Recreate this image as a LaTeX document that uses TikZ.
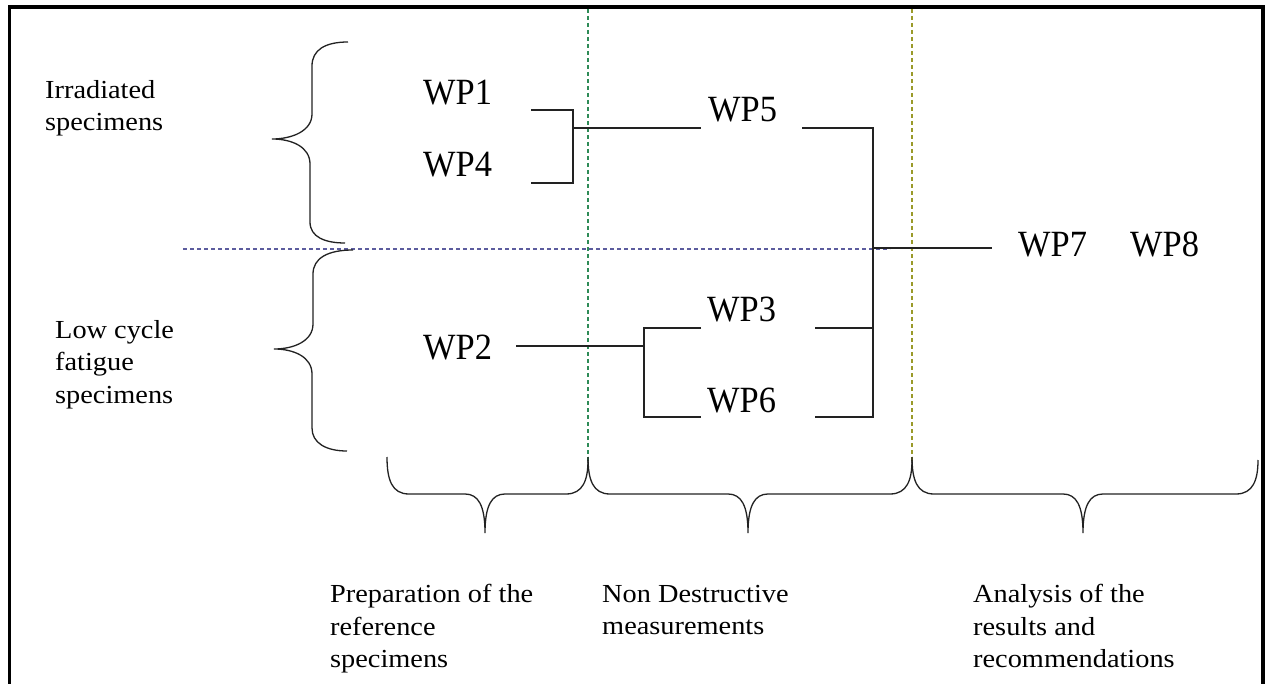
\documentclass[tikz,border=0pt]{standalone}
\usepackage{fontspec}
\setmainfont{Liberation Serif}
\newfontfamily\lblfont[FakeStretch=1.09]{Liberation Serif}
\newfontfamily\wpfont[FakeStretch=0.93]{Liberation Serif}
\definecolor{conncol}{HTML}{222222}
\definecolor{bluedash}{HTML}{5C5C9E}
\definecolor{greendash}{HTML}{2E8B57}
\definecolor{olivedash}{HTML}{9A9A2A}
\tikzset{
  conn/.style={draw=conncol, line width=1.3pt},
  frameline/.style={draw=black, line width=3.5pt},
  sepline/.style={line width=1.1pt, dash pattern=on 4pt off 3pt},
  lbl/.style={inner sep=0pt, anchor=north west, align=left, font=\lblfont\fontsize{26}{32.5}\selectfont},
  wp/.style={inner sep=0pt, anchor=base west, font=\wpfont\fontsize{37}{40}\selectfont},
}
\newcommand\downbrace[3]{%
  \draw[conn] (#1,457) .. controls (#1,480) and (#1+5,494) .. (#1+22,494)
    -- (#2-20,494) .. controls (#2-7,494) and (#2,505) .. (#2,533)
    .. controls (#2,505) and (#2+7,494) .. (#2+20,494)
    -- (#3-22,494) .. controls (#3-5,494) and (#3,480) .. (#3,460);}
\begin{document}
\begin{tikzpicture}[x=1pt,y=-1pt]
\useasboundingbox (0,0) rectangle (1268,684);
\fill[white] (0,0) rectangle (1268,684);
% frame
\draw[frameline] (9.5,690) -- (9.5,7) -- (1263,7) -- (1263,690);
% separators
\draw[sepline, draw=bluedash] (183,249) -- (890,249);
\draw[sepline, draw=greendash] (588,9) -- (588,463);
\draw[sepline, draw=olivedash] (912,9) -- (912,463);
% left braces
\draw[conn] (348,42) .. controls (325,42) and (312,50) .. (312,66) -- (312,114)
  .. controls (312,131) and (292,139) .. (272,139)
  .. controls (292,139) and (310,147) .. (310,164) -- (310,222)
  .. controls (310,237) and (325,243) .. (345,243);
\draw[conn] (353,250) .. controls (328,250) and (313,258) .. (313,274) -- (313,324)
  .. controls (313,341) and (294,349) .. (274,349)
  .. controls (294,349) and (312,357) .. (312,374) -- (312,428)
  .. controls (312,443) and (326,451) .. (347,451);
% bottom braces
\downbrace{387}{485}{588}
\downbrace{588}{748}{912}
\downbrace{912}{1083}{1258}
% side and bottom labels
\node[lbl] (irr) at (45,80.2) {Irradiated\\specimens};
\node[lbl] (lcf) at (55,320.2) {Low cycle\\fatigue\\specimens};
\node[lbl] (prep) at (330,584.2) {Preparation of the\\reference\\specimens};
\node[lbl] (ndm) at (602,584.8) {Non Destructive\\measurements};
\node[lbl] (ana) at (973,584.2) {Analysis of the\\results and\\recommendations};
% WP labels
\node[wp] (wp1) at (423,105) {WP1};
\node[wp] (wp4) at (423,177) {WP4};
\node[wp] (wp5) at (708,122) {WP5};
\node[wp] (wp2) at (423,359) {WP2};
\node[wp] (wp3) at (707,322) {WP3};
\node[wp] (wp6) at (707,412) {WP6};
\node[wp] (wp7) at (1018,257) {WP7};
\node[wp] (wp8) at (1130,257) {WP8};
% connector points
\coordinate (a1) at (531,110);
\coordinate (a4) at (531,183);
\coordinate (j14t) at (573,110);
\coordinate (j14b) at (573,183);
\coordinate (j14) at (573,128);
\coordinate (in5) at (701,128);
\coordinate (out5) at (802,128);
\coordinate (r5) at (873,128);
\coordinate (out2) at (516,346);
\coordinate (j36) at (644,346);
\coordinate (j36t) at (644,328);
\coordinate (j36b) at (644,417);
\coordinate (in3) at (701,328);
\coordinate (in6) at (701,417);
\coordinate (out3) at (815,328);
\coordinate (out6) at (815,417);
\coordinate (r3) at (873,328);
\coordinate (r6) at (873,417);
\coordinate (r7) at (873,248);
\coordinate (in7) at (992,248);
% connectors
\draw[conn] (a1) -- (j14t) -- (j14b) -- (a4);
\draw[conn] (j14) -- (in5);
\draw[conn] (out5) -- (r5) -- (r6) -- (out6);
\draw[conn] (out3) -- (r3);
\draw[conn] (r7) -- (in7);
\draw[conn] (out2) -- (j36);
\draw[conn] (in3) -- (j36t) -- (j36b) -- (in6);
\end{tikzpicture}
\end{document}
